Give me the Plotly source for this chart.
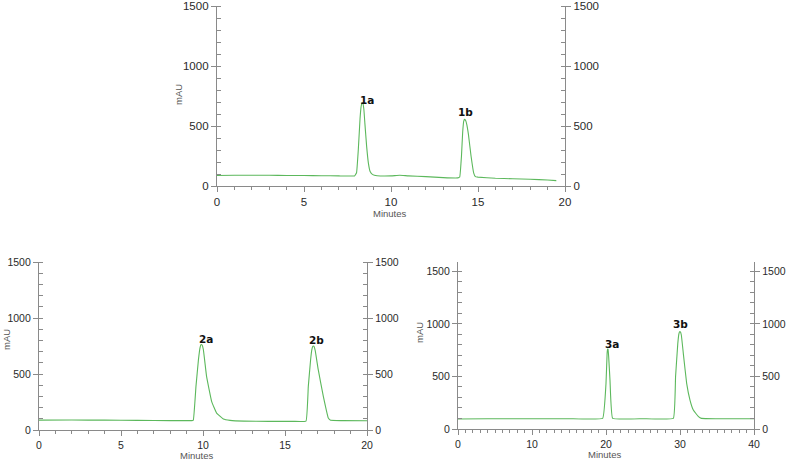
import plotly.graph_objects as go

# ---- Data ----
t1 = [0, 1, 2, 3, 4, 5, 6, 7, 7.9, 8.02, 8.12, 8.22, 8.28, 8.33, 8.38, 8.44, 8.5, 8.6, 8.7,
      8.8, 8.95, 9.2, 10, 10.5, 11, 12, 13, 13.85, 13.95, 14.05, 14.12, 14.18, 14.23, 14.29,
      14.36, 14.45, 14.6, 14.75, 14.85, 15, 16, 17, 18, 19, 19.5]
a1 = [88, 90, 90, 89, 88, 87, 86, 84, 84, 110, 300, 560, 660, 692, 690, 640, 520, 330, 190,
      120, 95, 86, 84, 90, 84, 78, 70, 68, 75, 250, 450, 540, 555, 545,
      510, 430, 250, 110, 78, 74, 65, 60, 56, 50, 45]

t2 = [0, 2, 4, 6, 8, 9.3, 9.41, 9.57, 9.72, 9.82, 9.88, 9.94, 10.02, 10.22, 10.53, 10.83,
      11.24, 11.65, 12.5, 14, 15.5, 16.28, 16.42, 16.56, 16.64, 16.7, 16.76, 16.84, 17.03,
      17.34, 17.64, 17.78, 18.5, 20]
a2 = [88, 89, 88, 86, 84, 84, 89, 387, 625, 735, 763, 760, 720, 476, 253, 151,
      98, 86, 79, 77, 77, 80, 387, 625, 720, 748, 748, 710, 536,
      298, 107, 86, 84, 82]

t3 = [0, 4, 10, 15, 19.55, 20.0, 20.15, 20.21, 20.27, 20.36, 20.54, 20.9, 25, 29.1, 29.4,
      29.7, 29.85, 29.95, 30.05, 30.18, 30.45, 30.9, 31.35, 31.8, 32.5, 32.9, 35, 40]
a3 = [95, 97, 98, 98, 101, 434, 720, 762, 760, 690, 465, 101, 98, 101, 497,
      813, 905, 926, 924, 895, 718, 434, 275, 180, 117, 101, 98, 98]

peaks1 = ["1a", "1b"]
peak_t1 = [8.6, 14.3]
peak_y1 = [714, 617]
peaks2 = ["2a", "2b"]
peak_t2 = [10.2, 16.9]
peak_y2 = [812, 807]
peaks3 = ["3a", "3b"]
peak_t3 = [20.85, 30.1]
peak_y3 = [805, 995]

LINE = "#5cb85c"
AXC = "#8a8a8a"
TXT = "#2a2a2a"
W, H = 787, 462

fig = go.Figure()

def add(t, a, xa, ya, yr):
    fig.add_trace(go.Scatter(x=t, y=a, mode="lines", xaxis=xa, yaxis=ya,
                             line=dict(color=LINE, width=1.1, shape="spline", smoothing=0.25),
                             showlegend=False, hoverinfo="skip"))
    fig.add_trace(go.Scatter(x=t, y=a, mode="lines", xaxis=xa, yaxis=yr,
                             line=dict(color="rgba(0,0,0,0)", width=0), showlegend=False,
                             hoverinfo="skip"))

add(t1, a1, "x", "y", "y2")
add(t2, a2, "x2", "y3", "y4")
add(t3, a3, "x3", "y5", "y6")

def px(x):
    return x / W

def py(y):
    return 1 - y / H

def xax(dom, anchor, rng, dtick, fs):
    return dict(domain=dom, anchor=anchor, range=rng, dtick=dtick, showgrid=False,
                zeroline=False, showline=True, linecolor=AXC, linewidth=1.3,
                ticks="outside", ticklen=5, tickcolor=AXC, tickwidth=1,
                tickfont=dict(family="Liberation Sans, Arial", size=fs, color=TXT),
                minor=dict(ticks="outside", ticklen=3, dtick=1, tickcolor=AXC, showgrid=False),
                automargin=False, fixedrange=True)

def yax(dom, anchor, rng, fs, side="left", overlay=None):
    d = dict(domain=dom, anchor=anchor, range=rng, dtick=500, showgrid=False,
             zeroline=False, showline=True, linecolor=AXC, linewidth=1.3,
             ticks="outside", ticklen=5, tickcolor=AXC, tickwidth=1, side=side,
             tickfont=dict(family="Liberation Sans, Arial", size=fs, color=TXT),
             minor=dict(ticks="inside", ticklen=4, dtick=100, tickcolor=AXC, showgrid=False),
             automargin=False, fixedrange=True)
    if overlay:
        d["overlaying"] = overlay
    return d

d1x = [px(217), px(565)]
d1y = [py(186), py(6)]
d2x = [px(39), px(367)]
d2y = [py(430), py(262)]
d3x = [px(458), px(754)]
d3y = [py(429), py(262)]

fig.update_layout(
    width=W, height=H, margin=dict(l=0, r=0, t=0, b=0, autoexpand=False),
    paper_bgcolor="white", plot_bgcolor="white",
    xaxis=xax(d1x, "y", [0, 20], 5, 11.5),
    yaxis=yax(d1y, "x", [0, 1500], 11.5),
    yaxis2=yax(d1y, "x", [0, 1500], 11.5, side="right", overlay="y"),
    xaxis2=xax(d2x, "y3", [0, 20], 5, 10.5),
    yaxis3=yax(d2y, "x2", [0, 1500], 10.5),
    yaxis4=yax(d2y, "x2", [0, 1500], 10.5, side="right", overlay="y3"),
    xaxis3=xax(d3x, "y5", [0, 40], 10, 10.5),
    yaxis5=yax(d3y, "x3", [0, 1590], 10.5),
    yaxis6=yax(d3y, "x3", [0, 1590], 10.5, side="right", overlay="y5"),
)

ann = []
for labels, ts, ys, xr, yr in [(peaks1, peak_t1, peak_y1, "x", "y"),
                               (peaks2, peak_t2, peak_y2, "x2", "y3"),
                               (peaks3, peak_t3, peak_y3, "x3", "y5")]:
    for lab, t, y in zip(labels, ts, ys):
        ann.append(dict(x=t, y=y, xref=xr, yref=yr, text="<b>" + lab + "</b>",
                        showarrow=False, xanchor="center", yanchor="middle",
                        font=dict(family="DejaVu Sans", size=10.5, color="#111")))

lab_font = dict(family="Liberation Sans, Arial", size=9.5, color="#555")
for (xp, yp) in [(390, 213), (197, 455), (605, 454)]:
    ann.append(dict(x=px(xp), y=py(yp), xref="paper", yref="paper", text="Minutes",
                    showarrow=False, xanchor="center", yanchor="middle", font=lab_font))
for (xp, yp) in [(179, 95), (6, 340), (419, 333)]:
    ann.append(dict(x=px(xp), y=py(yp), xref="paper", yref="paper", text="mAU",
                    showarrow=False, xanchor="center", yanchor="middle", textangle=-90,
                    font=lab_font))

fig.update_layout(annotations=ann)
fig.write_html("out.html", config={"displayModeBar": False},
               post_script="document.body.style.margin='0px';")
